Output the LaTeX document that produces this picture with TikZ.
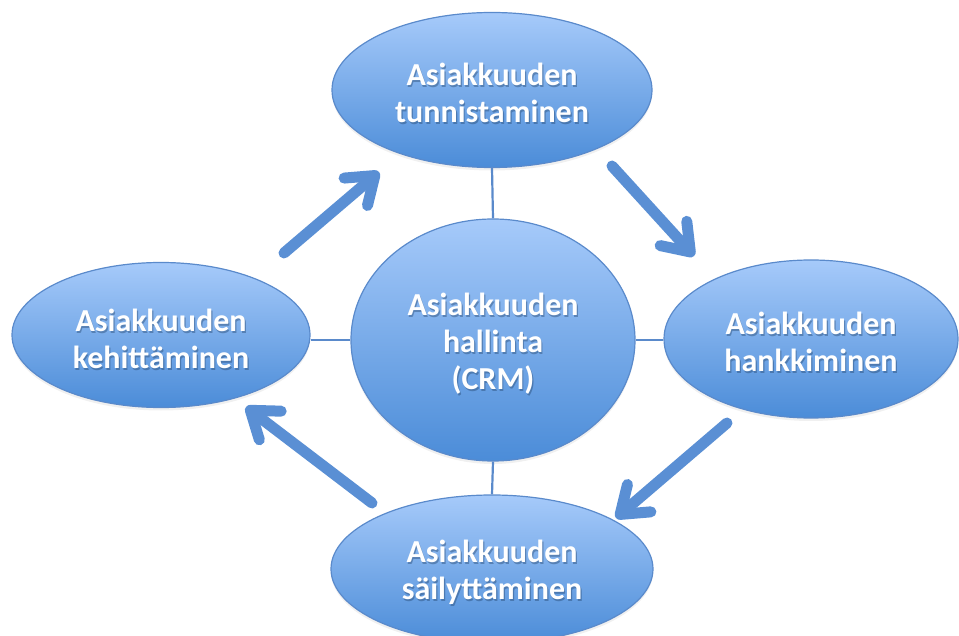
\documentclass[tikz,border=0pt]{standalone}
\usepackage{fontspec}
\setmainfont{Carlito}
\usetikzlibrary{shapes.geometric,arrows.meta,shadows}

\definecolor{ovaltop}{HTML}{A6CAFA}
\definecolor{ovalbot}{HTML}{4B8CD8}
\definecolor{ovalrim}{HTML}{5A8ACB}
\definecolor{flow}{HTML}{5A8FD4}
\definecolor{txtshade}{HTML}{1F3F66}

\tikzset{
  oval/.style={ellipse, draw=ovalrim, line width=1.2pt,
    top color=ovaltop, bottom color=ovalbot, inner sep=0pt,
    drop shadow={opacity=0.12, shadow xshift=0pt, shadow yshift=-3pt}},
  label/.style={text=white, align=center, font=\bfseries\fontsize{32}{37}\selectfont},
  labelshade/.style={label, text=txtshade, opacity=0.4},
  link/.style={draw=ovalrim, line width=2.2pt},
  flowarrow/.style={draw=flow, line width=11pt, line cap=round,
    -{Straight Barb[length=25pt, width=36pt, round]}},
}

\begin{document}
\begin{tikzpicture}[x=1pt, y=-1pt]
  \useasboundingbox (0,0) rectangle (959,636);

  % hub and the four phases
  \node[oval, minimum width=284pt, minimum height=242pt] (hub) at (493,340) {};
  \node[oval, minimum width=320pt, minimum height=155pt] (find) at (492,90) {};
  \node[oval, minimum width=294pt, minimum height=158pt] (win) at (811,339) {};
  \node[oval, minimum width=322pt, minimum height=148pt] (keep) at (492,569) {};
  \node[oval, minimum width=298pt, minimum height=145pt] (grow) at (161,335) {};

  % spokes to the hub
  \draw[link] (find.south) -- (hub.north);
  \draw[link] (hub.south) -- (keep.north);
  \draw[link] (hub.west) -- (hub.west -| grow.east);
  \draw[link] (hub.east) -- (hub.east -| win.west);

  % labels with a soft shadow behind the white text
  \foreach \n/\t/\dy in {hub/{Asiakkuuden\\hallinta\\(CRM)}/4,
                     find/{Asiakkuuden\\tunnistaminen}/3,
                     win/{Asiakkuuden\\hankkiminen}/3,
                     keep/{Asiakkuuden\\säilyttäminen}/3,
                     grow/{Asiakkuuden\\kehittäminen}/4} {
    \node[labelshade] (\n-shade) at ([xshift=1.2pt, yshift=-1.8pt]\n.center) [yshift=-\dy pt] {\t};
    \node[label] (\n-text) at (\n.center) [yshift=-\dy pt] {\t};
  }

  % cycle arrows
  \coordinate (a1s) at (284,253); \coordinate (a1e) at (379,172);
  \coordinate (a2s) at (612,166); \coordinate (a2e) at (694,256);
  \coordinate (a3s) at (727,423); \coordinate (a3e) at (616,518);
  \coordinate (a4s) at (372,503); \coordinate (a4e) at (246,407);
  \draw[flowarrow] (a1s) -- (a1e);
  \draw[flowarrow] (a2s) -- (a2e);
  \draw[flowarrow] (a3s) -- (a3e);
  \draw[flowarrow] (a4s) -- (a4e);
\end{tikzpicture}
\end{document}
